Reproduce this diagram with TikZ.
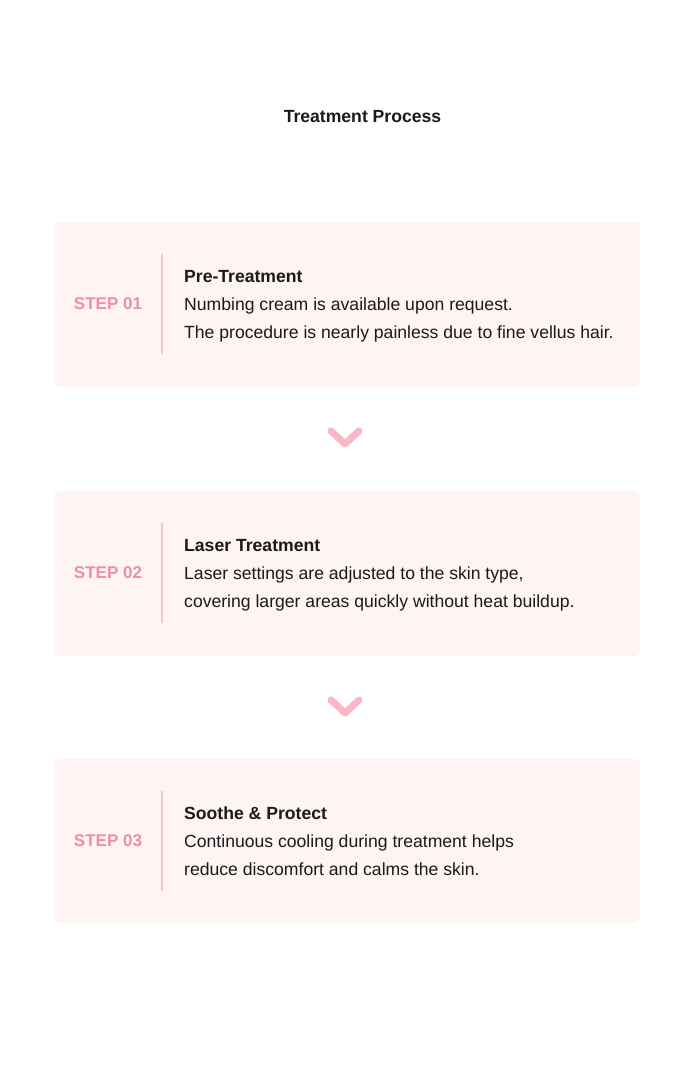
\documentclass[tikz,border=0pt]{standalone}
\usepackage{fontspec}
\setmainfont{Liberation Sans}
\definecolor{boxfill}{HTML}{FDF4F3}
\definecolor{steppink}{HTML}{F08FA3}
\definecolor{divpink}{HTML}{F5C4CC}
\definecolor{chev}{HTML}{F9B8C4}
\definecolor{txt}{HTML}{1A1A1A}
\begin{document}
\begin{tikzpicture}[x=1pt,y=-1pt,
  card/.style={fill=boxfill,rounded corners=5pt,draw=none},
  steplabel/.style={font=\fontsize{17}{19}\selectfont\bfseries,text=steppink,anchor=center,inner sep=0pt},
  head/.style={font=\fontsize{17.6}{20}\selectfont\bfseries,text=txt,anchor=base west,inner sep=0pt},
  body/.style={font=\fontsize{17.6}{20}\selectfont,text=txt,anchor=base west,inner sep=0pt},
  divider/.style={draw=divpink,line width=1.2pt},
  chevron/.style={draw=chev,line width=7pt,line cap=round,line join=round}]
\fill[white] (0,0) rectangle (692,1080);
\useasboundingbox (0,0) rectangle (692,1080);
\node[font=\fontsize{17.6}{20}\selectfont\bfseries,text=txt,inner sep=0pt] (title) at (362.5,117) {Treatment Process};
% card 1
\path[card] (54,222) rectangle (640,387);
\node[steplabel] (s1) at (108,304) {STEP 01};
\coordinate (d1a) at (162,254); \coordinate (d1b) at (162,354);
\draw[divider] (d1a) -- (d1b);
\node[head] (h1) at (184,282) {Pre-Treatment};
\node[body] (b1a) at (184,310) {Numbing cream is available upon request.};
\node[body] (b1b) at (184,338) {The procedure is nearly painless due to fine vellus hair.};
% chevron 1
\coordinate (c1a) at (331,431); \coordinate (c1m) at (345,444); \coordinate (c1b) at (359,431);
\draw[chevron] (c1a) -- (c1m) -- (c1b);
% card 2
\path[card] (54,491) rectangle (640,656);
\node[steplabel] (s2) at (108,573) {STEP 02};
\coordinate (d2a) at (162,523); \coordinate (d2b) at (162,623);
\draw[divider] (d2a) -- (d2b);
\node[head] (h2) at (184,551) {Laser Treatment};
\node[body] (b2a) at (184,579) {Laser settings are adjusted to the skin type,};
\node[body] (b2b) at (184,607) {covering larger areas quickly without heat buildup.};
% chevron 2
\coordinate (c2a) at (331,700); \coordinate (c2m) at (345,713); \coordinate (c2b) at (359,700);
\draw[chevron] (c2a) -- (c2m) -- (c2b);
% card 3
\path[card] (54,759) rectangle (640,923);
\node[steplabel] (s3) at (108,841) {STEP 03};
\coordinate (d3a) at (162,791); \coordinate (d3b) at (162,891);
\draw[divider] (d3a) -- (d3b);
\node[head] (h3) at (184,819) {Soothe \& Protect};
\node[body] (b3a) at (184,847) {Continuous cooling during treatment helps};
\node[body] (b3b) at (184,875) {reduce discomfort and calms the skin.};
\end{tikzpicture}
\end{document}
